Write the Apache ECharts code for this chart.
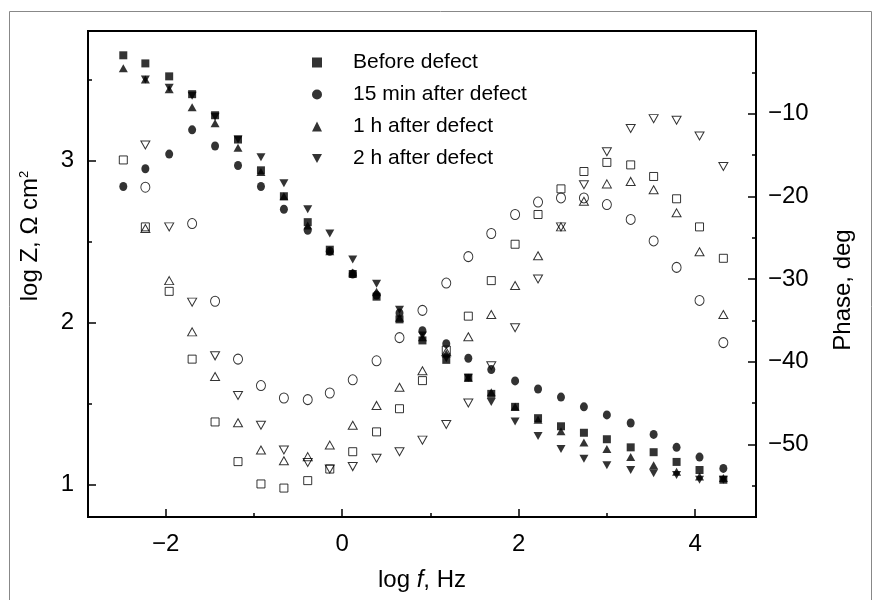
<!DOCTYPE html>
<html>
<head>
<meta charset="utf-8">
<script src="https://cdn.jsdelivr.net/npm/echarts@6/dist/echarts.min.js"></script>
<style>
html,body{margin:0;padding:0;background:#fff;}
#chart{width:874px;height:600px;}
</style>
</head>
<body>
<div id="chart"></div>
<script>
// log f, Hz
const logF = [-2.48, -2.23, -1.96, -1.70, -1.44, -1.18, -0.92, -0.66, -0.39, -0.14, 0.12, 0.39, 0.65, 0.91, 1.18, 1.43, 1.69, 1.96, 2.22, 2.48, 2.74, 3.00, 3.27, 3.53, 3.79, 4.05, 4.32];

// log Z, Ohm cm2
const logZBefore = [3.65, 3.60, 3.52, 3.41, 3.28, 3.13, 2.94, 2.78, 2.62, 2.45, 2.30, 2.16, 2.02, 1.89, 1.77, 1.66, 1.56, 1.48, 1.41, 1.36, 1.32, 1.28, 1.23, 1.20, 1.14, 1.09, 1.03];
const logZ15min  = [2.84, 2.95, 3.04, 3.19, 3.09, 2.97, 2.84, 2.70, 2.57, 2.44, 2.30, 2.17, 2.06, 1.95, 1.87, 1.78, 1.71, 1.64, 1.59, 1.54, 1.48, 1.43, 1.38, 1.31, 1.23, 1.17, 1.10];
const logZ1h     = [3.57, 3.50, 3.44, 3.33, 3.23, 3.08, 2.93, 2.78, 2.60, 2.44, 2.31, 2.19, 2.03, 1.91, 1.81, 1.66, 1.57, 1.48, 1.40, 1.33, 1.26, 1.22, 1.17, 1.12, 1.08, 1.05, 1.04];
const logZ2h     = [null, 3.50, 3.45, 3.40, 3.27, 3.13, 3.02, 2.86, 2.70, 2.55, 2.39, 2.24, 2.08, 1.92, 1.78, 1.66, 1.51, 1.39, 1.30, 1.22, 1.16, 1.12, 1.09, 1.07, 1.06, 1.03, 1.03];

// Phase, deg
const phaseBefore = [-15.6, -23.7, -31.5, -39.7, -47.3, -52.1, -54.8, -55.3, -54.4, -53.0, -50.9, -48.5, -45.7, -42.3, -38.6, -34.5, -30.2, -25.8, -22.2, -19.1, -17.0, -15.9, -16.2, -17.6, -20.3, -23.7, -27.5];
const phase15min  = [null, -18.9, null, -23.3, -32.7, -39.7, -42.9, -44.4, -44.6, -43.8, -42.2, -39.9, -37.1, -33.8, -30.5, -27.3, -24.5, -22.2, -20.7, -20.2, -20.2, -21.0, -22.8, -25.4, -28.6, -32.6, -37.7];
const phase1h     = [null, -23.9, -30.2, -36.4, -41.8, -47.4, -50.7, -52.0, -51.5, -50.1, -47.7, -45.3, -43.1, -41.1, -38.8, -37.0, -34.3, -30.8, -27.2, -23.7, -20.6, -18.5, -18.2, -19.2, -22.0, -26.7, -34.3];
const phase2h     = [null, -13.8, -23.7, -32.8, -39.3, -44.1, -47.7, -50.7, -52.2, -53.0, -52.7, -51.7, -50.9, -49.5, -47.6, -45.0, -40.5, -35.9, -30.0, -23.7, -18.6, -14.6, -11.8, -10.6, -10.8, -12.7, -16.4];

// tick values
const xMajor = [-2, 0, 2, 4];
const xMinor = [-1, 1, 3];
const zMajor = [1, 2, 3];
const zMinor = [1.5, 2.5, 3.5];
const phMajor = [-50, -40, -30, -20, -10];
const phMinor = [-55, -45, -35, -25, -15, -5];

const seriesNames = ['Before defect', '15 min after defect', '1 h after defect', '2 h after defect'];

const FONT = 'Liberation Sans';
const minus = v => String(v).replace('-', '\u2212');
const pairs = arr => logF.map((x, i) => [x, arr[i]]).filter(p => p[1] !== null);

const triDown = 'path://M0,0 L10,0 L5,9 Z';
const solidSyms = ['rect', 'circle', 'triangle', triDown];
const solidSizes = [8, [8, 9], [9, 8], [9, 8]];
const openSizes = [8, [9, 10], [9, 8], [9, 8]];
const zArrs = [logZBefore, logZ15min, logZ1h, logZ2h];
const phArrs = [phaseBefore, phase15min, phase1h, phase2h];

const series = [];
for (let k = 0; k < 4; k++) {
  series.push({
    name: seriesNames[k], type: 'scatter', xAxisIndex: 0, yAxisIndex: 0,
    symbol: solidSyms[k], symbolSize: solidSizes[k],
    itemStyle: { color: '#000' }, data: pairs(zArrs[k]), z: 3
  });
}
for (let k = 0; k < 4; k++) {
  series.push({
    name: seriesNames[k] + ' (phase)', type: 'scatter', xAxisIndex: 0, yAxisIndex: 1,
    symbol: solidSyms[k], symbolSize: openSizes[k],
    itemStyle: { color: 'rgba(0,0,0,0)', borderColor: '#000', borderWidth: 1 },
    data: pairs(phArrs[k]), z: 2
  });
}

const tickStyle = { color: '#000', width: 1.5 };
const noLine = { show: false, onZero: false };
const chart = echarts.init(document.getElementById('chart'), null, { renderer: 'canvas' });
chart.setOption({
  animation: false,
  backgroundColor: '#fff',
  textStyle: { fontFamily: FONT },
  grid: { left: 88, right: 118, top: 31, bottom: 83, show: true, borderColor: '#000', borderWidth: 2, backgroundColor: 'transparent' },
  legend: {
    data: seriesNames, orient: 'vertical', left: 307, top: 47,
    itemWidth: 10, itemHeight: 10, itemGap: 11,
    textStyle: { fontFamily: FONT, fontSize: 21, color: '#000', lineHeight: 21, padding: [0, 0, 0, 26] },
    selectedMode: false
  },
  xAxis: [
    {
      type: 'value', min: -2.88, max: 4.69, position: 'bottom', offset: 0,
      axisLine: noLine, splitLine: { show: false },
      axisTick: { inside: true, length: 8, lineStyle: tickStyle, customValues: xMajor },
      axisLabel: { customValues: xMajor, formatter: minus, fontSize: 24, color: '#000', margin: 15, fontFamily: FONT },
      name: '{n|log }{i|f}{n|, Hz}', nameLocation: 'middle', nameGap: 51,
      nameTextStyle: { rich: { n: { fontSize: 24, fontFamily: FONT, color: '#000' }, i: { fontSize: 24, fontFamily: FONT, fontStyle: 'italic', color: '#000' } } }
    },
    {
      type: 'value', min: -2.88, max: 4.69, position: 'bottom', offset: 0,
      axisLine: noLine, splitLine: { show: false },
      axisTick: { inside: true, length: 4, lineStyle: tickStyle, customValues: xMinor },
      axisLabel: { show: false }
    }
  ],
  yAxis: [
    {
      type: 'value', min: 0.8, max: 3.8, position: 'left', offset: 0,
      axisLine: noLine, splitLine: { show: false },
      axisTick: { inside: true, length: 8, lineStyle: tickStyle, customValues: zMajor },
      axisLabel: { customValues: zMajor, fontSize: 24, color: '#000', margin: 14, fontFamily: FONT }
    },
    {
      type: 'value', min: -58.8, max: 0, position: 'right', offset: 0,
      axisLine: noLine, splitLine: { show: false },
      axisTick: { inside: true, length: 8, lineStyle: tickStyle, customValues: phMajor },
      axisLabel: { customValues: phMajor, formatter: minus, fontSize: 24, color: '#000', margin: 12, fontFamily: FONT }
    },
    {
      type: 'value', min: 0.8, max: 3.8, position: 'left', offset: 0,
      axisLine: noLine, splitLine: { show: false },
      axisTick: { inside: true, length: 4, lineStyle: tickStyle, customValues: zMinor },
      axisLabel: { show: false }
    },
    {
      type: 'value', min: -58.8, max: 0, position: 'right', offset: 0,
      axisLine: noLine, splitLine: { show: false },
      axisTick: { inside: true, length: 4, lineStyle: tickStyle, customValues: phMinor },
      axisLabel: { show: false }
    }
  ],
  graphic: [
    { type: 'rect', shape: { x: 9.5, y: 11.5, width: 862, height: 620 }, style: { fill: 'none', stroke: '#888', lineWidth: 1 }, silent: true, z: -10 },
    {
      type: 'text', x: 30, y: 236, rotation: Math.PI / 2,
      style: {
        text: '{n|log Z, \u03A9 cm}{s|2}', align: 'center', verticalAlign: 'middle',
        rich: { n: { fontSize: 24, fontFamily: FONT, fill: '#000', color: '#000' }, s: { fontSize: 13, fontFamily: FONT, fill: '#000', color: '#000', verticalAlign: 'top', padding: [0, 0, 12, 0] } }
      }
    },
    {
      type: 'text', x: 843, y: 290, rotation: Math.PI / 2,
      style: { text: 'Phase, deg', fontSize: 24, fontFamily: FONT, fill: '#000', align: 'center', verticalAlign: 'middle' }
    }
  ],
  series: series
});
</script>
</body>
</html>
